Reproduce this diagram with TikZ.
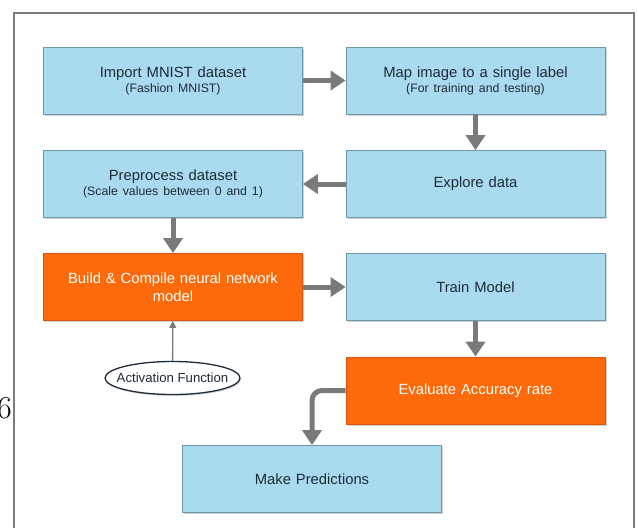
\documentclass[tikz,border=0pt]{standalone}
\usepackage{fontspec}
\newfontfamily\diag{Liberation Sans}
\usetikzlibrary{arrows.meta,shapes.geometric,shadows}
\definecolor{boxblue}{HTML}{A9DAEF}
\definecolor{boxedge}{HTML}{6E97AC}
\definecolor{boxorange}{HTML}{FC6A0C}
\definecolor{orangeedge}{HTML}{D9560A}
\definecolor{arrowgray}{HTML}{7A7A7A}
\definecolor{txtdark}{HTML}{1E2B38}
\definecolor{framegray}{HTML}{7C7C7C}
\tikzset{
  stepbox/.style={rectangle, minimum width=259pt, minimum height=67pt, text width=250pt,
    align=center, inner sep=0pt, line width=0.8pt,
    drop shadow={opacity=0.35, shadow xshift=1.5pt, shadow yshift=-1.5pt}},
  bluebox/.style={stepbox, fill=boxblue, draw=boxedge, text=txtdark},
  orangebox/.style={stepbox, fill=boxorange, draw=orangeedge, text=white},
  mainlbl/.style={font=\diag\fontsize{14.8}{18}\selectfont},
  flow/.style={draw=arrowgray, line width=5pt, -{Triangle[width=19pt,length=15pt]}},
  thinflow/.style={draw=arrowgray, line width=1.3pt, -{Triangle[width=7pt,length=7pt]}},
}
\newcommand{\subl}[1]{\\[-3pt]{\fontsize{12.3}{14}\selectfont #1}}
\begin{document}
\begin{tikzpicture}[x=1pt,y=-1pt]
\useasboundingbox (0,0) rectangle (638,528);
\fill[white] (0,0) rectangle (638,528);
% frame
\draw[framegray, line width=2.5pt] (14,528) -- (14,13) -- (634,13) -- (634,528);
\node[anchor=base east, inner sep=0pt, font=\fontsize{32}{32}\selectfont] (six) at (12,418) {6};
% boxes
\node[bluebox, mainlbl] (b1) at (173,80.5) {Import MNIST dataset\subl{(Fashion MNIST)}};
\node[bluebox, mainlbl] (b2) at (475.5,80.5) {Map image to a single label\subl{(For training and testing)}};
\node[bluebox, mainlbl] (b3) at (173,184) {Preprocess dataset\subl{(Scale values between 0 and 1)}};
\node[bluebox, mainlbl] (b4) at (475.5,184) {Explore data};
\node[orangebox, mainlbl] (b5) at (173,287) {Build \& Compile neural network\\model};
\node[bluebox, mainlbl] (b6) at (475.5,287) {Train Model};
\node[orangebox, mainlbl] (b7) at (475.5,390.5) {Evaluate Accuracy rate};
\node[bluebox, mainlbl] (b8) at (312,479) {Make Predictions};
\node[ellipse, draw=txtdark, line width=1.3pt, fill=white, minimum width=135pt, minimum height=33pt,
  inner sep=0pt,
  drop shadow={opacity=0.3, shadow xshift=1pt, shadow yshift=-1.5pt}] (act) at (172.5,378) {};
\node[inner sep=0pt, text=txtdark, font=\diag\fontsize{13.2}{15}\selectfont] (actlbl) at (act) {Activation Function};
% connectors
\draw[flow] (b1) -- (b2);
\draw[flow] (b2) -- (b4);
\draw[flow] (b4) -- (b3);
\draw[flow] (b3) -- (b5);
\draw[flow] (b5) -- (b6);
\draw[flow] (b6) -- (b7);
\draw[flow, rounded corners=10pt] (b7.west) -| (b8.north);
\draw[thinflow] (act) -- (b5);
\end{tikzpicture}
\end{document}
